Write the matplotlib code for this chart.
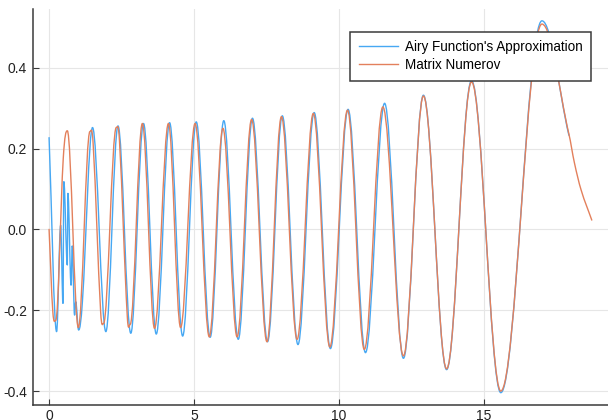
import matplotlib
matplotlib.use('Agg')
import matplotlib.pyplot as plt
from matplotlib.path import Path
from matplotlib.patches import PathPatch
from matplotlib.lines import Line2D

# values: peaks / troughs (+ the noisy start of the Airy curve)
airy_x = [0.00, 0.26, 0.40, 0.48, 0.51, 0.63, 0.65, 0.76, 0.80, 0.88, 0.92, 1.02, 1.15,
          1.50, 1.96, 2.38, 2.82, 3.26, 3.70, 4.16, 4.61, 5.08, 5.56, 6.03, 6.53, 7.02,
          7.54, 8.05, 8.59, 9.15, 9.71, 10.32, 10.92, 11.58, 12.23, 12.92, 13.72, 14.58,
          15.59, 17.01, 17.94]
airy_y = [0.227, -0.253, 0.010, -0.183, 0.118, -0.088, 0.089, -0.138, -0.041, -0.212, -0.179,
          -0.249, -0.179, 0.252, -0.253, 0.256, -0.257, 0.262, -0.259, 0.264, -0.264, 0.266,
          -0.267, 0.269, -0.272, 0.275, -0.278, 0.281, -0.285, 0.289, -0.295, 0.297, -0.305,
          0.312, -0.319, 0.332, -0.347, 0.368, -0.404, 0.516, 0.233]

numerov_x = [0.00, 0.13, 0.23, 0.49, 0.63, 1.01, 1.41, 1.52, 1.78, 1.88, 2.32, 2.43, 2.70,
             2.80, 3.22, 3.64, 4.12, 4.54, 5.04, 5.53, 6.00, 6.49, 6.99, 7.52, 8.02,
             8.56, 9.12, 9.69, 10.30, 10.88, 11.52, 12.23, 12.92, 13.72,
             14.58, 15.59, 17.01, 17.94, 18.13, 18.36, 18.73]
numerov_y = [0.000, -0.204, -0.225, 0.176, 0.244, -0.243, 0.242, 0.213, -0.204, -0.233, 0.252,
             0.219, -0.216, -0.235, 0.262, -0.245, 0.262, -0.243, 0.262, -0.266, 0.250,
             -0.266, 0.272, -0.278, 0.279, -0.272, 0.287, -0.291, 0.295, -0.297,
             0.303, -0.313, 0.330, -0.345, 0.365, -0.400, 0.508, 0.236, 0.165, 0.098,
             0.023]

labels = ["Airy Function's Approximation", "Matrix Numerov"]
colors = ['#47a8f3', '#e3805c']
xticks = [0, 5, 10, 15]
yticks = [-0.4, -0.2, 0.0, 0.2, 0.4]


def smooth_path(xs, ys, k=0.36):
    # bezier pieces between the read points, flat at peaks and troughs
    n = len(xs)
    m = []
    for i in range(n):
        if i == 0:
            s = (ys[1] - ys[0]) / (xs[1] - xs[0])
        elif i == n - 1:
            s = (ys[-1] - ys[-2]) / (xs[-1] - xs[-2])
        elif (ys[i] - ys[i-1]) * (ys[i+1] - ys[i]) <= 0:
            s = 0.0
        else:
            s = (ys[i+1] - ys[i-1]) / (xs[i+1] - xs[i-1])
        m.append(s)
    verts = [(xs[0], ys[0])]
    codes = [Path.MOVETO]
    for i in range(n - 1):
        d = (xs[i+1] - xs[i]) * k
        verts += [(xs[i] + d, ys[i] + m[i]*d),
                  (xs[i+1] - d, ys[i+1] - m[i+1]*d),
                  (xs[i+1], ys[i+1])]
        codes += [Path.CURVE4] * 3
    return Path(verts, codes)


plt.rcParams['font.family'] = ['Liberation Sans', 'DejaVu Sans']

fig = plt.figure(figsize=(6.08, 4.20), dpi=100)
ax = fig.add_axes([32.7/608, 15/420, (608 - 32.7)/608, (405 - 9.3)/420])

for xs, ys, c in [(airy_x, airy_y, colors[0]), (numerov_x, numerov_y, colors[1])]:
    ax.add_patch(PathPatch(smooth_path(xs, ys), facecolor='none', edgecolor=c,
                           linewidth=1.0, capstyle='round', joinstyle='round'))

ax.set_xlim(-0.565, 19.29)
ax.set_ylim(-0.4345, 0.5445)
ax.set_xticks(xticks)
ax.set_yticks(yticks)
ax.set_yticklabels(['%.1f' % v for v in yticks])
ax.grid(True, color='#e6e6e6', linewidth=0.8)
ax.set_axisbelow(True)

for s in ['top', 'right']:
    ax.spines[s].set_visible(False)
for s in ['left', 'bottom']:
    ax.spines[s].set_color('#3a3a3a')
    ax.spines[s].set_linewidth(1.1)
ax.tick_params(direction='in', length=4.3, width=0.8, color='#3a3a3a',
               labelsize=10, labelcolor='#222222')
ax.tick_params(axis='x', pad=3.2)
ax.tick_params(axis='y', pad=4)

handles = [Line2D([], [], color=c, linewidth=1.0) for c in colors]
leg = ax.legend(handles, labels, loc='upper right', bbox_to_anchor=(590.7/608, 1 - 31.7/420),
                bbox_transform=fig.transFigure, borderaxespad=0, fontsize=9.75,
                fancybox=False, framealpha=1, edgecolor='#3a3a3a',
                handlelength=2.9, handletextpad=0.5, labelspacing=0.3, borderpad=0.62)
leg.get_frame().set_linewidth(1.1)

fig.savefig('out.png', dpi=100)
